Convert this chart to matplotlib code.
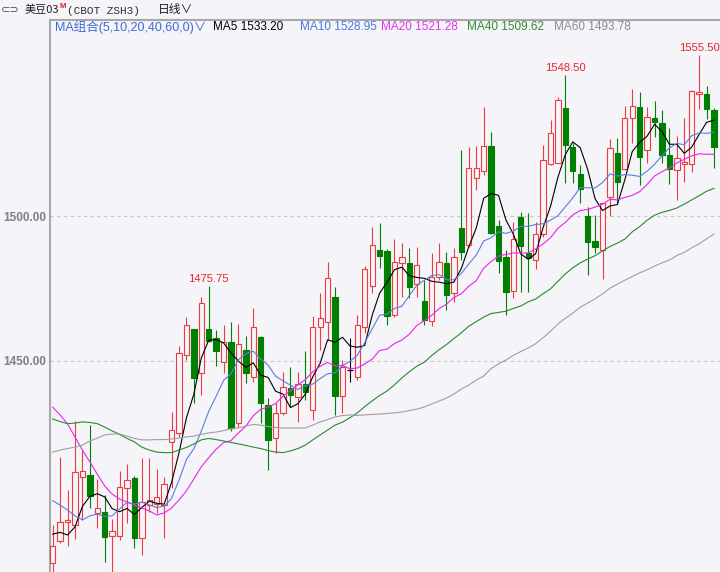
import matplotlib.pyplot as plt
import numpy as np
import pandas as pd

plt.rcParams['font.family'] = ['Liberation Sans', 'Noto Sans CJK SC', 'DejaVu Sans']

# 日K数据
opens = [1380.4, 1388.0, 1394.5, 1393.4, 1410.1, 1410.7, 1397.7, 1397.8, 1389.7, 1389.7,
         1406.1, 1409.8, 1388.9, 1400.3, 1400.7, 1400.3, 1422.2, 1425.3, 1452.1, 1460.9,
         1445.8, 1460.9, 1457.8, 1449.8, 1456.7, 1428.5, 1453.8, 1444.4, 1458.2, 1434.8,
         1423.3, 1432.0, 1440.6, 1437.7, 1442.0, 1433.1, 1461.8, 1463.6, 1472.2, 1437.9,
         1446.9, 1444.6, 1461.8, 1475.9, 1488.3, 1488.0, 1465.9, 1483.9, 1483.7, 1476.6,
         1470.8, 1463.9, 1478.9, 1483.7, 1473.3, 1495.8, 1490.0, 1513.0, 1515.5, 1524.1,
         1496.6, 1485.8, 1474.2, 1499.8, 1487.3, 1484.8, 1493.8, 1517.9, 1518.4, 1537.1,
         1523.7, 1514.5, 1500.0, 1491.5, 1488.3, 1506.4, 1521.6, 1516.1, 1533.7, 1537.5,
         1522.8, 1533.7, 1532.2, 1521.0, 1515.9, 1518.1, 1517.9, 1542.1, 1542.1, 1536.6]
highs = [1393.4, 1417.0, 1405.5, 1429.4, 1419.3, 1427.9, 1409.2, 1403.8, 1395.4, 1412.2,
         1414.5, 1410.2, 1416.4, 1416.6, 1412.7, 1410.1, 1432.5, 1455.2, 1465.1, 1461.2,
         1472.0, 1475.75, 1460.7, 1462.4, 1463.6, 1462.8, 1458.6, 1468.2, 1458.5, 1437.1,
         1435.4, 1446.3, 1448.0, 1446.3, 1453.6, 1465.5, 1473.3, 1484.2, 1475.6, 1450.3,
         1457.8, 1465.9, 1482.8, 1496.3, 1497.5, 1488.5, 1492.0, 1490.6, 1488.9, 1489.2,
         1477.9, 1487.3, 1490.6, 1487.7, 1488.9, 1522.8, 1523.9, 1524.1, 1537.7, 1529.1,
         1498.6, 1488.3, 1498.0, 1501.5, 1500.9, 1498.0, 1524.5, 1533.1, 1541.1, 1548.5,
         1525.1, 1517.6, 1503.2, 1500.3, 1504.6, 1526.4, 1526.8, 1537.9, 1543.7, 1542.9,
         1537.5, 1539.8, 1536.6, 1530.2, 1527.6, 1533.7, 1543.4, 1555.5, 1544.8, 1537.1]
lows = [1376.0, 1387.1, 1386.2, 1388.5, 1395.2, 1399.2, 1392.3, 1380.8, 1375.0, 1388.3,
        1394.0, 1385.4, 1383.1, 1398.0, 1397.5, 1388.9, 1406.1, 1423.9, 1450.3, 1435.4,
        1438.3, 1456.7, 1448.3, 1445.8, 1426.0, 1427.3, 1442.3, 1442.9, 1428.5, 1412.4,
        1418.2, 1431.4, 1434.2, 1429.1, 1436.6, 1429.7, 1453.8, 1457.2, 1431.4, 1432.0,
        1442.9, 1443.4, 1459.6, 1473.3, 1482.0, 1462.4, 1465.1, 1472.2, 1471.6, 1472.2,
        1462.4, 1462.1, 1477.9, 1467.6, 1470.4, 1484.8, 1489.4, 1509.0, 1514.1, 1493.8,
        1480.4, 1466.0, 1471.6, 1473.9, 1473.9, 1481.6, 1492.9, 1517.6, 1518.2, 1511.3,
        1511.3, 1504.4, 1479.7, 1487.3, 1478.2, 1500.0, 1504.4, 1515.9, 1525.1, 1510.7,
        1518.2, 1527.3, 1518.2, 1511.0, 1505.5, 1511.8, 1515.3, 1536.8, 1533.3, 1516.4]
closes = [1386.2, 1394.6, 1395.0, 1411.6, 1412.0, 1403.4, 1399.2, 1389.4, 1391.5, 1406.7,
          1409.0, 1388.9, 1401.5, 1402.1, 1403.2, 1407.5, 1426.2, 1452.7, 1462.4, 1444.0,
          1469.9, 1456.9, 1453.6, 1456.7, 1426.8, 1455.8, 1446.0, 1461.6, 1435.4, 1422.8,
          1432.0, 1441.1, 1438.3, 1442.1, 1439.4, 1461.8, 1464.7, 1478.5, 1437.9, 1448.0,
          1446.9, 1462.4, 1481.6, 1490.0, 1486.2, 1465.5, 1484.2, 1485.8, 1475.4, 1483.1,
          1464.1, 1479.1, 1484.2, 1472.8, 1485.8, 1487.7, 1516.4, 1516.4, 1524.1, 1494.2,
          1484.6, 1473.9, 1492.0, 1489.7, 1485.4, 1493.8, 1519.3, 1528.5, 1540.0, 1524.5,
          1515.6, 1509.2, 1491.1, 1489.2, 1504.4, 1523.3, 1511.8, 1533.7, 1537.9, 1520.2,
          1534.0, 1532.5, 1521.0, 1516.1, 1519.9, 1518.6, 1543.1, 1542.9, 1536.9, 1523.9]

# 均线参数与图例数值
ma_periods = [5, 10, 20, 40, 60]
ma_names = ['MA5', 'MA10', 'MA20', 'MA40', 'MA60']
ma_last = [1533.20, 1528.95, 1521.28, 1509.62, 1493.78]
ma_colors = ['#000000', '#5a7fe0', '#ee22ee', '#2a8a2a', '#a0a0a0']
ma_text_colors = ['#000000', '#4a78e0', '#e633e6', '#2e8b2e', '#8c8c8c']

# 窗口左侧的均线值依赖更早的K线, 直接读图
ma5_head = [1390.3, 1390.9, 1390.0, 1392.8]
ma10_head = [1401.8, 1400.3, 1398.6, 1396.6, 1395.2, 1396.6, 1397.2, 1396.4, 1396.6]
ma20_head = [1434.1, 1431.4, 1428.3, 1423.8, 1419.3, 1415.2, 1411.0, 1406.9, 1404.1, 1402.4,
             1401.4, 1400.3, 1399.3, 1398.3, 1396.9, 1397.6, 1399.3, 1402.1, 1405.2]
ma40_head = [1430.0, 1429.1, 1428.4, 1428.6, 1429.0, 1428.8, 1428.4, 1427.2, 1425.9, 1424.7,
             1423.3, 1422.1, 1420.3, 1419.3, 1418.6, 1418.4, 1418.4, 1419.3, 1420.2, 1421.4,
             1422.8, 1423.3, 1422.9, 1422.4, 1421.9, 1421.4, 1420.9, 1420.3, 1419.8, 1419.1,
             1418.6, 1418.4, 1419.0, 1419.8, 1421.0, 1422.8, 1424.5, 1426.2, 1427.9]
ma60_head = [1418.6, 1419.3, 1419.8, 1420.3, 1421.0, 1422.4, 1423.4, 1424.5, 1424.8, 1424.8,
             1424.1, 1423.3, 1422.8, 1422.8, 1422.9, 1422.9, 1423.1, 1423.4, 1423.8, 1424.1,
             1424.7, 1425.2, 1425.5, 1426.0, 1426.6, 1426.9, 1427.6, 1428.1, 1427.9, 1427.4,
             1427.1, 1426.9, 1426.9, 1426.9, 1426.9, 1427.9, 1429.0, 1429.8, 1430.7, 1431.2,
             1431.4, 1431.2, 1431.4, 1431.6, 1431.7, 1431.9, 1432.1, 1432.4, 1432.9, 1433.4,
             1434.1, 1435.2, 1436.2, 1437.2, 1438.6, 1440.3, 1441.7, 1443.4, 1444.8]
ma_heads = [ma5_head, ma10_head, ma20_head, ma40_head, ma60_head]

peak_idx = [21, 69, 87]
y_ticks = [1450, 1500]

BG = '#f4f4f9'
RED = '#ee3b3b'
GREEN = '#008000'
W, H = 720, 572


def fig_xy(x, y):
    return x / W, 1 - y / H


def moving_average(head, n):
    s = pd.Series(closes).rolling(n).mean().to_numpy()
    s[:len(head)] = head
    return s


def main():
    o = np.array(opens)
    h = np.array(highs)
    l = np.array(lows)
    c = np.array(closes)
    x = np.arange(len(c))

    fig = plt.figure(figsize=(7.2, 5.72), dpi=100, facecolor=BG)
    ax = fig.add_axes([50 / W, 0, 670 / W, 1 - 19.5 / H], facecolor=BG)
    ax.set_xlim(-0.363, 89.81)
    ax.set_ylim(1377.24, 1567.76)

    # 网格虚线
    for yv in y_ticks:
        ax.axhline(yv, color='#c8c8c8', lw=0.8, dashes=(3, 3), zorder=0)

    # K线
    top = np.maximum(o, c)
    bot = np.minimum(o, c)
    colors = np.where(c > o, RED, np.where(c < o, GREEN, '#000000'))
    faces = np.where(c > o, BG, colors)
    ax.vlines(x, top, h, colors=colors, lw=0.8, zorder=2)
    ax.vlines(x, l, bot, colors=colors, lw=0.8, zorder=2)
    ax.bar(x, top - bot, bottom=bot, width=0.72, color=faces, edgecolor=colors,
           linewidth=0.8, zorder=3)

    # 均线
    for n, head, col in zip(ma_periods, ma_heads, ma_colors):
        ax.plot(x, moving_average(head, n), color=col, lw=0.8, zorder=4)

    # 高点标注
    for i in peak_idx:
        ax.annotate(f'{highs[i]:.2f}', (x[i], highs[i]), xytext=(0, 1.5),
                    textcoords='offset points', ha='center', va='bottom',
                    color='#e8262a', fontsize=8.1, zorder=5, annotation_clip=False)

    # 坐标轴样式
    for side in ['right', 'bottom']:
        ax.spines[side].set_visible(False)
    for side in ['left', 'top']:
        ax.spines[side].set_color('#a8a8a8')
        ax.spines[side].set_linewidth(1.5)
    ax.set_xticks([])
    ax.set_yticks(y_ticks)
    ax.set_yticklabels([f'{v:.2f}' for v in y_ticks])
    ax.tick_params(axis='y', length=0, pad=3, labelsize=8.5, labelcolor='#808080')
    for t in ax.get_yticklabels():
        t.set_fontweight('bold')

    # 顶部标题行
    fig.text(*fig_xy(1, 10), '⊂⊃', family=['DejaVu Sans'], fontsize=8,
             color='#505050', va='center')
    fig.text(*fig_xy(25, 10), '美豆03', family=['Noto Sans CJK SC'], fontsize=8,
             color='#202020', va='center')
    fig.text(*fig_xy(59.5, 6.5), 'M', fontsize=5.5, fontweight='bold',
             color='#e02020', va='center')
    fig.text(*fig_xy(67, 10.5), '(CBOT ZSH3)', family=['Liberation Mono'], fontsize=8,
             color='#303030', va='center')
    fig.text(*fig_xy(158, 10), '日线∨', family=['Noto Sans CJK SC', 'DejaVu Sans'],
             fontsize=8.5, color='#202020', va='center')

    # 均线图例行
    fig.text(*fig_xy(55, 27.5), 'MA组合(5,10,20,40,60,0)∨', fontsize=9,
             color='#3c6ad8', va='center')
    legend_x = [213, 300, 381, 467, 554]
    for lx, name, val, col in zip(legend_x, ma_names, ma_last, ma_text_colors):
        fig.text(*fig_xy(lx, 27.5), f'{name} {val:.2f}', fontsize=8.5, color=col,
                 va='center')

    fig.savefig('out.png', dpi=100, facecolor=BG)


if __name__ == '__main__':
    main()
